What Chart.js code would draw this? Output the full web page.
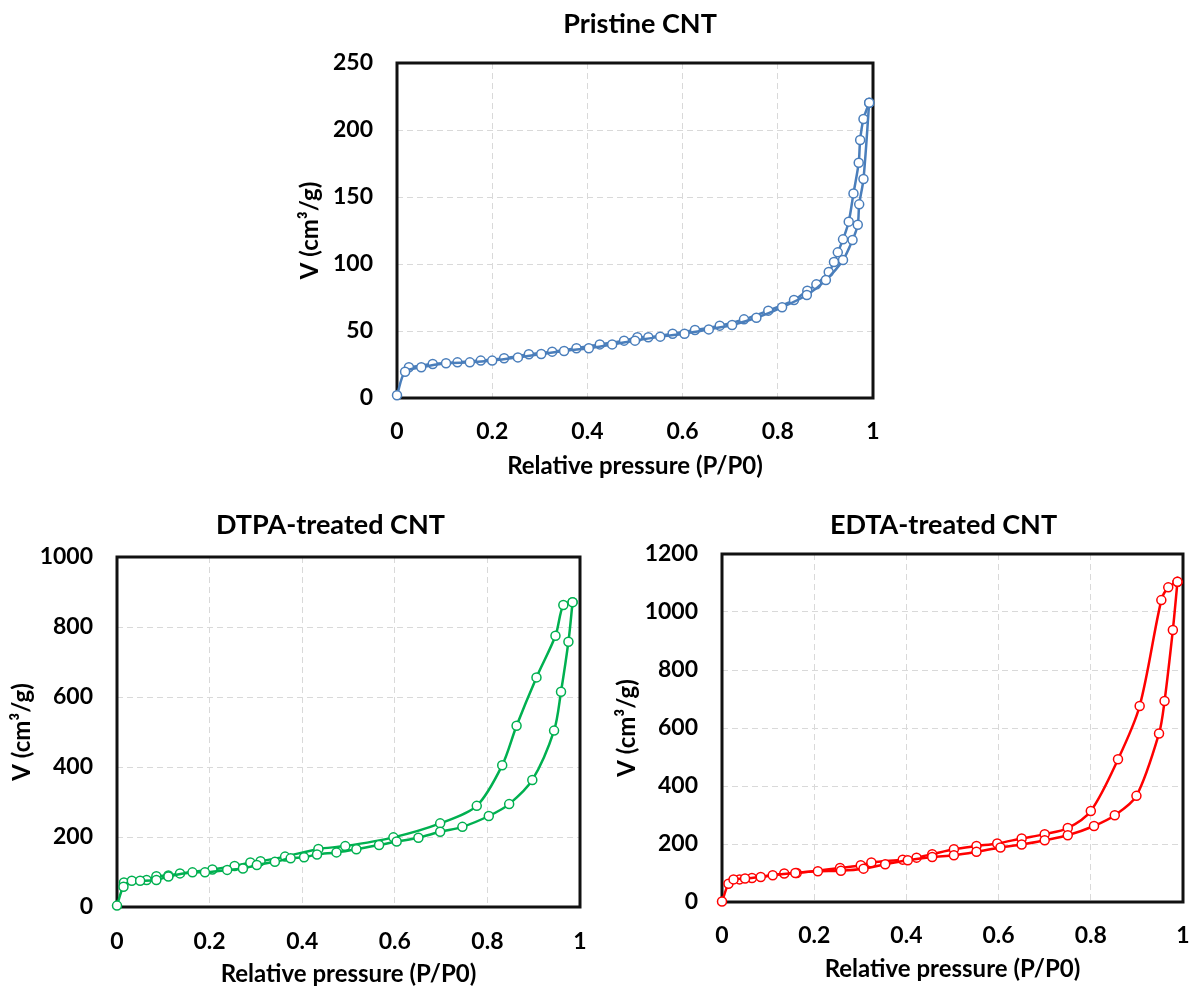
<!DOCTYPE html>
<html>
<head>
<meta charset="utf-8">
<script src="https://cdn.jsdelivr.net/npm/chart.js@4.4.1/dist/chart.umd.min.js"></script>
<style>
  html, body { margin: 0; padding: 0; background: #fff; overflow: hidden; }
  body { position: relative; width: 1194px; height: 992px; }
  canvas { position: absolute; }
</style>
</head>
<body>
<canvas id="pristine" width="603" height="488" style="left:290px; top:0px;"></canvas>
<canvas id="dtpa" width="600" height="500" style="left:0px; top:492px;"></canvas>
<canvas id="edta" width="594" height="500" style="left:600px; top:492px;"></canvas>

<script>
// N2 isotherms: relative pressure (P/P0) vs adsorbed volume (cm3/g)

// Pristine CNT
var pristineAdsP = [0, 0.017, 0.051, 0.103, 0.153, 0.2, 0.254, 0.303, 0.351, 0.403, 0.452, 0.5, 0.553, 0.604, 0.655, 0.704, 0.755, 0.809, 0.861, 0.901, 0.937, 0.957, 0.968, 0.971, 0.98, 0.992];
var pristineAdsV = [2, 19.6, 22.9, 25.9, 26.6, 27.9, 30.3, 32.8, 35.1, 37.1, 40.0, 42.8, 45.8, 48.0, 51.2, 54.5, 59.9, 67.7, 76.9, 88.0, 103.0, 117.9, 129.3, 144.5, 163.4, 220.4];
var pristineDesP = [0.992, 0.98, 0.973, 0.970, 0.959, 0.949, 0.937, 0.926, 0.918, 0.907, 0.881, 0.862, 0.834, 0.780, 0.729, 0.678, 0.626, 0.579, 0.528, 0.505, 0.477, 0.426, 0.377, 0.326, 0.277, 0.225, 0.176, 0.127, 0.075, 0.025];
var pristineDesV = [220.4, 208.2, 192.5, 175.6, 152.7, 131.6, 118.4, 108.7, 101.5, 94.0, 84.8, 80.1, 73.1, 65.2, 58.7, 54.0, 50.7, 48.0, 45.3, 45.3, 42.8, 40.0, 37.1, 34.6, 32.6, 29.6, 27.9, 26.6, 25.4, 22.9];

// DTPA-treated CNT
var dtpaAdsP = [0, 0.014, 0.032, 0.05, 0.085, 0.111, 0.163, 0.19, 0.238, 0.272, 0.302, 0.341, 0.375, 0.404, 0.432, 0.474, 0.517, 0.566, 0.604, 0.651, 0.698, 0.746, 0.803, 0.847, 0.897, 0.944, 0.959, 0.975, 0.984];
var dtpaAdsV = [4, 58, 75, 75, 77, 87, 99, 99, 106, 110, 120, 129, 139, 142, 150, 156, 165, 177, 187, 198, 215, 229, 260, 294, 363, 504, 615, 758, 871];
var dtpaDesP = [0.984, 0.964, 0.947, 0.906, 0.863, 0.832, 0.777, 0.698, 0.597, 0.493, 0.435, 0.363, 0.310, 0.288, 0.254, 0.206, 0.136, 0.111, 0.085, 0.064, 0.015];
var dtpaDesV = [871, 863, 775, 656, 518, 405, 289, 239, 199, 174, 166, 144, 131, 127, 117, 107, 96, 90, 88, 77, 70];

// EDTA-treated CNT
var edtaAdsP = [0, 0.014, 0.025, 0.05, 0.084, 0.11, 0.159, 0.208, 0.258, 0.307, 0.354, 0.403, 0.456, 0.503, 0.552, 0.604, 0.65, 0.70, 0.75, 0.807, 0.852, 0.899, 0.948, 0.960, 0.978, 0.988];
var edtaAdsV = [2, 63, 78, 81, 86, 92, 100, 106, 108, 115, 130, 144, 155, 161, 173, 188, 198, 213, 230, 262, 299, 366, 581, 693, 938, 1104];
var edtaDesP = [0.988, 0.968, 0.953, 0.906, 0.859, 0.80, 0.75, 0.70, 0.65, 0.597, 0.552, 0.503, 0.456, 0.422, 0.392, 0.324, 0.301, 0.256, 0.162, 0.135, 0.065, 0.038];
var edtaDesV = [1104, 1085, 1041, 676, 492, 314, 255, 234, 219, 202, 193, 182, 165, 153, 146, 136, 127, 117, 100, 98, 83, 78];

var FONT = 'Lato, "Open Sans", sans-serif';

function pairs(xs, ys) {
    return xs.map(function (x, i) { return { x: x, y: ys[i] }; });
}

// black box round the plot area
var frame = {
    id: 'frame',
    beforeDatasetsDraw: function (chart) {
        var a = chart.chartArea, ctx = chart.ctx;
        ctx.save();
        ctx.strokeStyle = '#111';
        ctx.lineWidth = 3;
        ctx.strokeRect(a.left, a.top, a.right - a.left, a.bottom - a.top);
        ctx.restore();
    }
};

// moves the title sideways (it is centred on the whole figure, not the plot)
var titleShift = {
    id: 'titleShift',
    afterLayout: function (chart, args, opts) {
        var t = chart.titleBlock;
        if (t && opts.dx) { t.left += opts.dx; t.right += opts.dx; }
    }
};

function isotherm(id, cfg) {
    var ds = function (data, color) {
        return {
            data: data,
            borderColor: color,
            borderWidth: 2.5,
            tension: 0.3,
            pointRadius: 4.5,
            pointBorderWidth: 1.5,
            pointBackgroundColor: '#fff',
            pointBorderColor: color,
            showLine: true,
            clip: false
        };
    };
    var grid = {
        color: '#d9d9d9',
        lineWidth: 1,
        drawTicks: false
    };
    var tickFont = { family: FONT, size: 23, weight: 'bold' };
    var axisFont = { family: FONT, size: 24, weight: 'bold' };
    return new Chart(document.getElementById(id), {
        type: 'scatter',
        data: {
            datasets: [
                ds(pairs(cfg.adsP, cfg.adsV), cfg.color),
                ds(pairs(cfg.desP, cfg.desV), cfg.color)
            ]
        },
        plugins: [frame, titleShift],
        options: {
            responsive: false,
            animation: false,
            layout: { padding: { left: 0, right: cfg.padRight, top: 0, bottom: 0 } },
            plugins: {
                legend: { display: false },
                tooltip: { enabled: false },
                title: {
                    display: true,
                    text: cfg.title,
                    fullSize: false,
                    color: '#000',
                    font: { family: FONT, size: 27, weight: 'bold' },
                    padding: cfg.titlePad
                },
                titleShift: { dx: cfg.titleDx }
            },
            scales: {
                x: {
                    type: 'linear',
                    min: 0,
                    max: 1,
                    ticks: {
                        stepSize: 0.2,
                        color: '#000',
                        padding: cfg.xTickPad,
                        font: tickFont,
                        callback: function (v) { return String(Math.round(v * 10) / 10); }
                    },
                    grid: grid,
                    border: { display: false, dash: [6, 4] },
                    title: {
                        display: true,
                        text: 'Relative pressure (P/P0)',
                        color: '#000',
                        font: axisFont,
                        padding: { top: 0, bottom: cfg.xTitlePad }
                    },
                    afterFit: function (s) {
                        s.height = cfg.xHeight;
                        s.paddingLeft = 0;
                        s.paddingRight = 0;
                    }
                },
                y: {
                    type: 'linear',
                    min: 0,
                    max: cfg.yMax,
                    ticks: {
                        stepSize: cfg.yStep,
                        color: '#000',
                        padding: 24,
                        font: tickFont,
                        callback: function (v) { return String(v); }
                    },
                    grid: grid,
                    border: { display: false, dash: [6, 4] },
                    title: {
                        display: true,
                        text: 'V (cm³/g)',
                        color: '#000',
                        font: axisFont,
                        padding: { top: cfg.yTitlePad, bottom: 0 }
                    },
                    afterFit: function (s) {
                        s.width = cfg.yWidth;
                        s.paddingTop = 0;
                        s.paddingBottom = 0;
                    }
                }
            }
        }
    });
}

isotherm('pristine', {
    title: 'Pristine CNT',
    color: '#4a7ebb',
    adsP: pristineAdsP, adsV: pristineAdsV,
    desP: pristineDesP, desV: pristineDesV,
    yMax: 250, yStep: 50,
    padRight: 20,
    titlePad: { top: 8, bottom: 22.6 },
    titleDx: 5,
    xHeight: 90, xTickPad: 20, xTitlePad: 7,
    yWidth: 107, yTitlePad: 6
});

isotherm('dtpa', {
    title: 'DTPA-treated CNT',
    color: '#00b050',
    adsP: dtpaAdsP, adsV: dtpaAdsV,
    desP: dtpaDesP, desV: dtpaDesV,
    yMax: 1000, yStep: 200,
    padRight: 20,
    titlePad: { top: 17, bottom: 15.6 },
    titleDx: -18,
    xHeight: 85, xTickPad: 21, xTitlePad: 3,
    yWidth: 117, yTitlePad: 8
});

isotherm('edta', {
    title: 'EDTA-treated CNT',
    color: '#ff0000',
    adsP: edtaAdsP, adsV: edtaAdsV,
    desP: edtaDesP, desV: edtaDesV,
    yMax: 1200, yStep: 200,
    padRight: 11,
    titlePad: { top: 17, bottom: 12.6 },
    titleDx: -9,
    xHeight: 90, xTickPad: 20, xTitlePad: 8,
    yWidth: 122, yTitlePad: 13
});
</script>
</body>
</html>
